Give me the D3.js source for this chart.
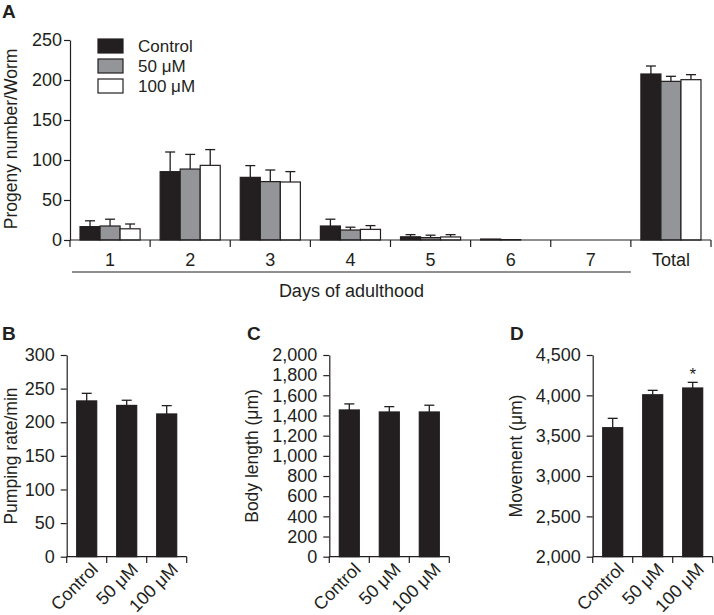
<!DOCTYPE html>
<html>
<head>
<meta charset="utf-8">
<script src="https://cdn.jsdelivr.net/npm/d3@7"></script>
<style>
  body { margin: 0; background: #fff; }
  svg { font-family: "Liberation Sans", Arial, sans-serif; }
  .axis path, .axis line { stroke: #231f20; stroke-width: 1.2; }
  .axis text { fill: #231f20; font-size: 18px; }
</style>
</head>
<body>
<svg id="chart" width="714" height="615"></svg>
<script>
// ---- panel A data ----
const days = ['1', '2', '3', '4', '5', '6', '7', 'Total'];
const groups = ['Control', '50 \u03bcM', '100 \u03bcM'];
const groupColors = ['#231f20', '#939598', '#ffffff'];
const progenyControl = [16.7, 85.4, 78.3, 17.5, 4, 1.2, 0, 207.5];
const progenyControlErr = [7.3, 24.6, 14.7, 8.5, 2.7, 0.3, 0, 10];
const progeny50 = [17.5, 88.7, 73, 12.5, 3, 0.5, 0, 198.3];
const progeny50Err = [8.5, 18.3, 14.5, 3.5, 3, 0, 0, 6.3];
const progeny100 = [14, 93.3, 72.5, 13.3, 3.8, 0, 0, 200.4];
const progeny100Err = [6, 19.7, 13, 4.7, 2.9, 0, 0, 6.3];
const progenyTicks = [0, 50, 100, 150, 200, 250];

// ---- panels B-D data ----
const doses = ['Control', '50 \u03bcM', '100 \u03bcM'];
const pumping = [231.7, 225, 212.3];
const pumpingErr = [11.3, 7.7, 12.4];
const pumpingTicks = [0, 50, 100, 150, 200, 250, 300];
const bodyLength = [1455, 1435, 1435];
const bodyLengthErr = [60, 53, 67];
const bodyTicks = [0, 200, 400, 600, 800, 1000, 1200, 1400, 1600, 1800, 2000];
const movement = [3599, 4007, 4091];
const movementErr = [116, 55, 70];
const movementTicks = [2000, 2500, 3000, 3500, 4000, 4500];
const movementSig = ['', '', '*'];

const svg = d3.select('#chart');
const ink = '#231f20';
const fmt = d3.format(',');

function panelLetter(txt, x, y){
  svg.append('text')
    .attr('x', x).attr('y', y)
    .attr('font-size', 19).attr('font-weight', 'bold')
    .attr('fill', ink)
    .text(txt);
}

function yLabel(txt, x, yMid){
  svg.append('text')
    .attr('transform', 'translate(' + x + ',' + yMid + ') rotate(-90)')
    .attr('text-anchor', 'middle')
    .attr('font-size', 17.5).attr('fill', ink)
    .text(txt);
}

function errBar(g, cx, yTop, yErr, cap){
  if (yTop - yErr < 0.5) return;
  g.append('line').attr('x1', cx).attr('x2', cx).attr('y1', yTop).attr('y2', yErr)
    .attr('stroke', ink).attr('stroke-width', 1.3);
  g.append('line').attr('x1', cx - cap/2).attr('x2', cx + cap/2).attr('y1', yErr).attr('y2', yErr)
    .attr('stroke', ink).attr('stroke-width', 1.3);
}

// ================= Panel A =================
(function(){
  const x0 = d3.scaleBand().domain(days).range([70, 711]).paddingInner(0.25).paddingOuter(0.125);
  const x1 = d3.scaleBand().domain(groups).range([0, x0.bandwidth()]);
  const y = d3.scaleLinear().domain([0, 250]).range([240, 40]);
  const series = [
    { vals: progenyControl, errs: progenyControlErr },
    { vals: progeny50, errs: progeny50Err },
    { vals: progeny100, errs: progeny100Err }
  ];

  const g = svg.append('g');
  series.forEach(function(s, si){
    days.forEach(function(d, i){
      const v = s.vals[i];
      const bx = x0(d) + x1(groups[si]);
      errBar(g, bx + x1.bandwidth()/2, y(v), y(v + s.errs[i]), 10);
      if (v > 0) {
        g.append('rect')
          .attr('x', bx).attr('y', y(v))
          .attr('width', x1.bandwidth()).attr('height', y(0) - y(v))
          .attr('fill', groupColors[si])
          .attr('stroke', ink).attr('stroke-width', 1.2);
      }
    });
  });

  svg.append('g').attr('class', 'axis')
    .attr('transform', 'translate(70,0)')
    .call(d3.axisLeft(y).tickValues(progenyTicks).tickSize(6).tickSizeOuter(0).tickPadding(2));

  // x axis: boundaries between categories
  const xa = svg.append('g').attr('class', 'axis');
  xa.append('line').attr('x1', 70).attr('x2', 711).attr('y1', 240).attr('y2', 240);
  days.forEach(function(d, i){
    const left = x0(d) - x0.step() * x0.paddingOuter();
    xa.append('line').attr('x1', left).attr('x2', left).attr('y1', 240).attr('y2', 247);
    xa.append('text').attr('x', x0(d) + x0.bandwidth()/2).attr('y', 266)
      .attr('text-anchor', 'middle').text(d);
  });
  xa.append('line').attr('x1', 711).attr('x2', 711).attr('y1', 240).attr('y2', 247);

  const lineEnd = x0('Total') - x0.step() * x0.paddingOuter();
  svg.append('line').attr('x1', 72).attr('x2', lineEnd).attr('y1', 272).attr('y2', 272)
    .attr('stroke', ink).attr('stroke-width', 1.2);
  svg.append('text').attr('x', (72 + lineEnd)/2).attr('y', 297)
    .attr('text-anchor', 'middle').attr('font-size', 18).attr('fill', ink)
    .text('Days of adulthood');

  // legend
  const lg = svg.append('g').attr('transform', 'translate(98,39)');
  groups.forEach(function(gname, i){
    lg.append('rect').attr('x', 0).attr('y', i * 20).attr('width', 25).attr('height', 14)
      .attr('fill', groupColors[i]).attr('stroke', ink).attr('stroke-width', 1.2);
    lg.append('text').attr('x', 40).attr('y', i * 20 + 13)
      .attr('font-size', 17).attr('fill', ink).text(gname);
  });

  yLabel('Progeny number/Worm', 17, 139);
  panelLetter('A', 2, 18);
})();

// ================= Panels B-D =================
function smallPanel(opts){
  const x = d3.scaleBand().domain(doses).range([opts.x0, opts.x0 + 120]).paddingInner(0.5).paddingOuter(0.25);
  const y = d3.scaleLinear().domain(opts.domain).range([556.7, 355]);
  const g = svg.append('g');

  doses.forEach(function(d, i){
    const v = opts.vals[i];
    errBar(g, x(d) + x.bandwidth()/2, y(v), y(v + opts.errs[i]), 10);
    g.append('rect')
      .attr('x', x(d)).attr('y', y(v))
      .attr('width', x.bandwidth()).attr('height', y(opts.domain[0]) - y(v))
      .attr('fill', ink).attr('stroke', ink).attr('stroke-width', 1.2);
    if (opts.sig && opts.sig[i]) {
      g.append('text').attr('x', x(d) + x.bandwidth()/2).attr('y', y(v + opts.errs[i]) - 2)
        .attr('text-anchor', 'middle').attr('font-size', 17).attr('fill', ink).text(opts.sig[i]);
    }
  });

  svg.append('g').attr('class', 'axis')
    .attr('transform', 'translate(' + opts.x0 + ',0)')
    .call(d3.axisLeft(y).tickValues(opts.ticks).tickFormat(fmt).tickSize(6).tickSizeOuter(0).tickPadding(6));

  const xa = svg.append('g').attr('class', 'axis');
  xa.append('line').attr('x1', opts.x0).attr('x2', opts.x0 + 120).attr('y1', 556.7).attr('y2', 556.7);
  [0, 1, 2, 3].forEach(function(k){
    const tx = opts.x0 + k * x.step();
    xa.append('line').attr('x1', tx).attr('x2', tx).attr('y1', 556.7).attr('y2', 563);
  });
  doses.forEach(function(d){
    const cx = x(d) + x.bandwidth()/2 + 8;
    xa.append('text')
      .attr('transform', 'translate(' + cx + ',566) rotate(-45)')
      .attr('text-anchor', 'end').attr('dy', '0.35em')
      .attr('font-size', 16)
      .text(d);
  });

  yLabel(opts.label, opts.labelX, 456);
  panelLetter(opts.letter, opts.letterX, 340);
}

smallPanel({ x0: 66.7, domain: [0, 300], ticks: pumpingTicks, vals: pumping, errs: pumpingErr,
  label: 'Pumping rate/min', labelX: 17, letter: 'B', letterX: 2 });
smallPanel({ x0: 329.3, domain: [0, 2000], ticks: bodyTicks, vals: bodyLength, errs: bodyLengthErr,
  label: 'Body length (\u03bcm)', labelX: 258, letter: 'C', letterX: 247 });
smallPanel({ x0: 592.7, domain: [2000, 4500], ticks: movementTicks, vals: movement, errs: movementErr,
  sig: movementSig, label: 'Movement (\u03bcm)', labelX: 522, letter: 'D', letterX: 510 });
</script>
</body>
</html>
